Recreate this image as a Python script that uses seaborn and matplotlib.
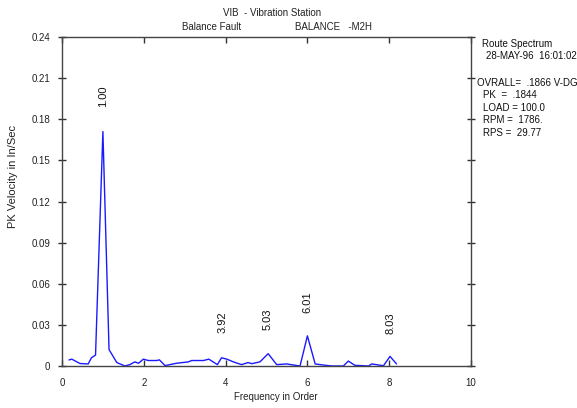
import matplotlib
matplotlib.use("Agg")
import matplotlib.pyplot as plt
import seaborn as sns
import pandas as pd

order = [0.17, 0.24, 0.44, 0.64, 0.72, 0.82, 1.0, 1.15, 1.34, 1.54, 1.66, 1.78, 1.87, 1.99,
         2.11, 2.32, 2.38, 2.52, 2.80, 3.09, 3.17, 3.46, 3.59, 3.80, 3.90, 4.03, 4.19, 4.39,
         4.55, 4.64, 4.84, 5.04, 5.25, 5.49, 5.82, 6.0, 6.19, 6.39, 6.6, 6.88, 7.0, 7.16,
         7.5, 7.57, 7.86, 8.02, 8.18]
velocity = [0.0044, 0.005, 0.0018, 0.0015, 0.006, 0.008, 0.171, 0.012, 0.0025, 0.0, 0.001,
            0.003, 0.002, 0.005, 0.004, 0.004, 0.0045, 0.0003, 0.002, 0.003, 0.004, 0.004,
            0.005, 0.001, 0.006, 0.005, 0.003, 0.001, 0.0025, 0.0017, 0.003, 0.009, 0.001,
            0.0015, 0.0, 0.022, 0.0015, 0.0007, 0.0, 0.0, 0.0036, 0.0005, 0.0, 0.0015, 0.0002,
            0.007, 0.0015]
peak_labels = ["1.00", "3.92", "5.03", "6.01", "8.03"]
peak_x = [1.0, 3.92, 5.03, 6.01, 8.03]
peak_label_y = [0.189, 0.024, 0.026, 0.039, 0.023]
x_ticks = [0, 2, 4, 6, 8, 10]
y_ticks = [0, 0.03, 0.06, 0.09, 0.12, 0.15, 0.18, 0.21, 0.24]
y_tick_labels = ["0", "0.03", "0.06", "0.09", "0.12", "0.15", "0.18", "0.21", "0.24"]
info_lines = ["Route Spectrum", "28-MAY-96  16:01:02", "OVRALL=  .1866 V-DG",
              "PK  =  .1844", "LOAD = 100.0", "RPM =  1786.", "RPS =  29.77"]
info_x = [482, 486, 477, 483, 483, 483, 483]
info_y = [44, 56, 83, 95, 108, 120, 133]

sns.set_style("white")
plt.rcParams['font.family'] = ['Liberation Sans', 'DejaVu Sans']

W, H = 577, 408
fig = plt.figure(figsize=(W / 100, H / 100), dpi=100)
ax = fig.add_axes([62 / W, 1 - 366 / H, (471 - 62) / W, (366 - 37) / H])

df = pd.DataFrame({"order": order, "velocity": velocity})
sns.lineplot(data=df, x="order", y="velocity", ax=ax, color="#1a1aff", linewidth=1.0)

ax.set_xlim(0, 10)
ax.set_ylim(0, 0.24)
ax.set_xticks(x_ticks)
ax.set_xticklabels([str(t) for t in x_ticks])
ax.set_yticks(y_ticks)
ax.set_yticklabels(y_tick_labels)
ax.tick_params(axis='y', which='both', direction='inout', length=6, width=1,
               color='#333333', labelsize=7, labelcolor='#222222',
               left=True, right=True, labelright=False, pad=5.5)
ax.tick_params(axis='x', which='both', direction='in', length=4, width=1,
               color='#333333', labelsize=7, labelcolor='#222222',
               bottom=True, top=True, labeltop=False, pad=9)
for s in ax.spines.values():
    s.set_color('#444444')
    s.set_linewidth(1.0)

ax.set_xlabel("Frequency in Order", fontsize=7, color='#222222')
ax.xaxis.set_label_coords((276 - 62) / 409, (366 - 392.5) / 329)
ax.set_ylabel("PK Velocity in In/Sec", fontsize=8, color='#222222')
ax.yaxis.set_label_coords((18 - 62) / 409, (366 - 176) / 329)

for lab, px, py in zip(peak_labels, peak_x, peak_label_y):
    ax.text(px, py, lab, rotation=90, ha='center', va='bottom', fontsize=8, color='#111111')

fig.text(272 / W, 1 - 13 / H, "VIB  - Vibration Station", ha='center', va='center',
         fontsize=7, color='#222222')
fig.text(182 / W, 1 - 27 / H, "Balance Fault", ha='left', va='center', fontsize=7, color='#222222')
fig.text(295 / W, 1 - 27 / H, "BALANCE   -M2H", ha='left', va='center', fontsize=7, color='#222222')

for line, xx, yy in zip(info_lines, info_x, info_y):
    fig.text(xx / W, 1 - yy / H, line, ha='left', va='center', fontsize=7, color='#111111')

fig.savefig("out.png", dpi=100)
